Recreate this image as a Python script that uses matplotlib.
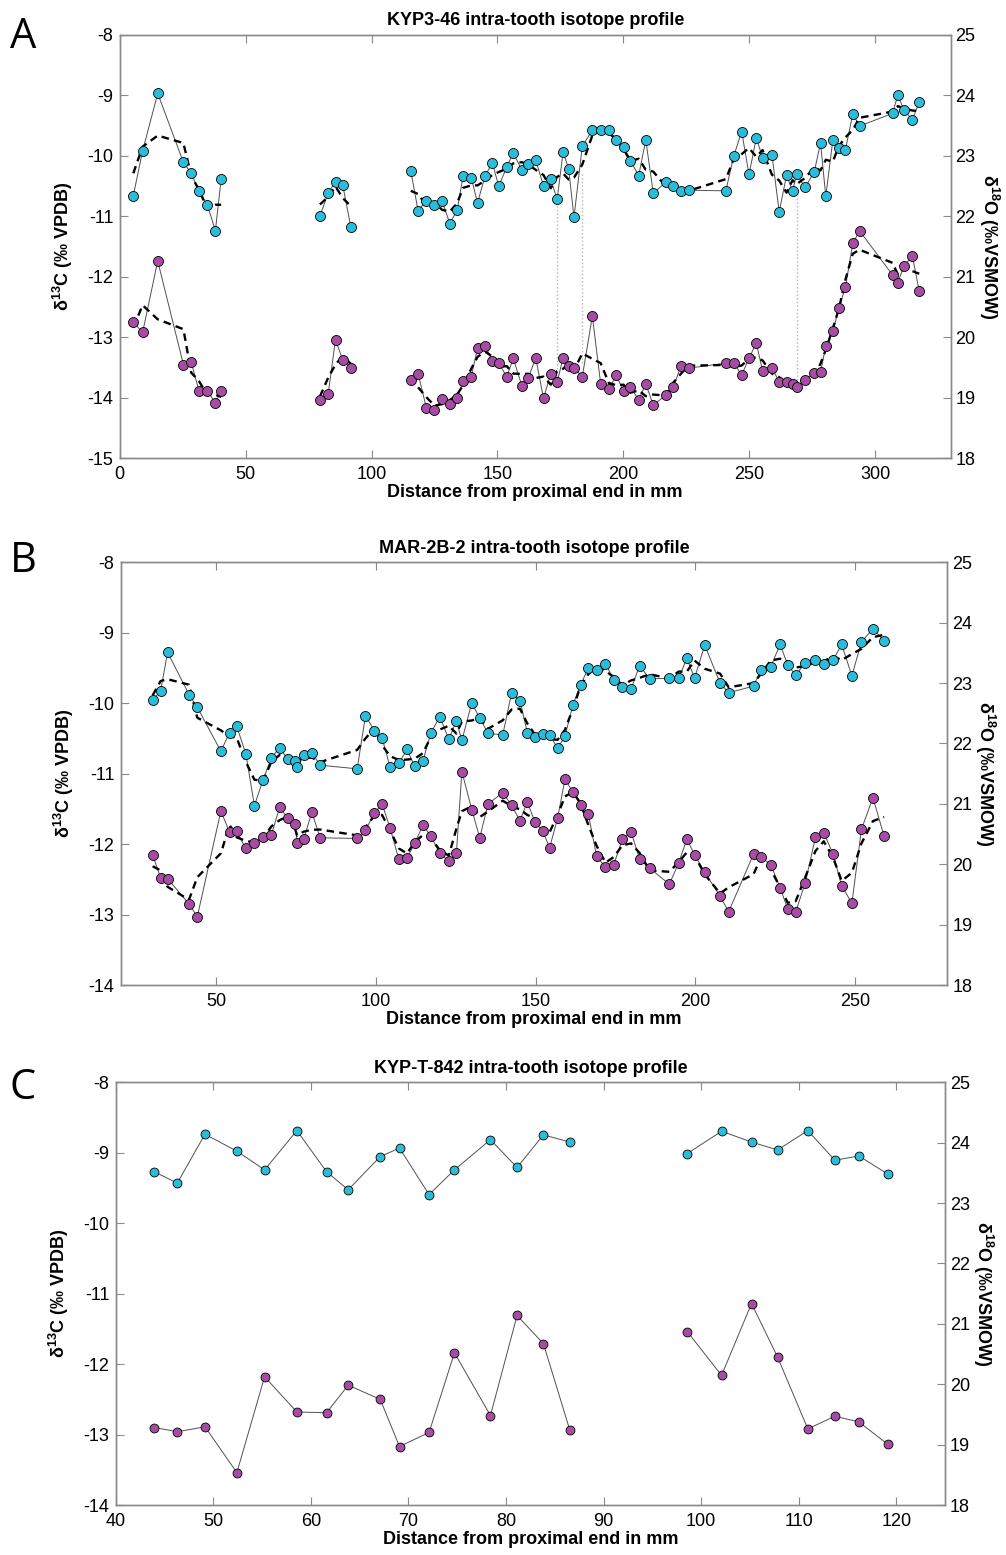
import matplotlib
matplotlib.use("Agg")
import matplotlib.pyplot as plt
import numpy as np
import pandas as pd

plt.rcParams["font.family"] = ["Liberation Sans", "DejaVu Sans"]
plt.rcParams["axes.unicode_minus"] = False
plt.rcParams["mathtext.fontset"] = "custom"
plt.rcParams["mathtext.rm"] = "Liberation Sans"
plt.rcParams["mathtext.bf"] = "Liberation Sans:bold"

CYAN = "#2BBCD9"
PURPLE = "#A64CA3"
SPINE = "#8a8a8a"

# --- A: KYP3-46 (distance mm, d18O VSMOW on right axis, d13C VPDB on left axis)
a_x = [5.4, 9.1, 15.1, 25.3, 28.4, 31.5, 34.8, 38.0, 40.3,
       79.5, 82.8, 85.7, 88.6, 91.8,
       115.6, 118.5, 121.8, 125.0, 128.0, 131.1, 134.0, 136.4, 139.6, 142.1,
       145.1, 148.0, 150.5, 153.7, 156.3, 159.7, 162.3, 165.2, 168.3, 171.2,
       173.7, 176.1, 178.3, 180.4, 183.7, 187.7, 191.0, 194.2, 197.2, 200.1,
       202.8, 206.1, 208.9, 211.9, 217.1, 219.9, 222.9, 225.9, 240.7, 243.8,
       247.0, 249.9, 252.8, 255.3, 259.0, 261.9, 264.8, 267.2, 268.8, 272.2,
       275.8, 278.3, 280.4, 283.2, 285.6, 288.2, 291.1, 293.8, 306.9, 309.0,
       311.4, 314.8, 317.5]
a_seg = [9, 5, 63]
a_o18 = [22.34, 23.08, 24.03, 22.89, 22.71, 22.41, 22.19, 21.76, 22.62,
         22.00, 22.39, 22.57, 22.51, 21.82,
         22.75, 22.09, 22.26, 22.19, 22.25, 21.88, 22.10, 22.67, 22.64, 22.22,
         22.67, 22.88, 22.50, 22.81, 23.05, 22.76, 22.87, 22.93, 22.50, 22.61,
         22.28, 23.06, 22.78, 21.98, 23.16, 23.42, 23.43, 23.42, 23.26, 23.15,
         22.92, 22.67, 23.26, 22.38, 22.57, 22.50, 22.41, 22.43, 22.42, 22.99,
         23.40, 22.69, 23.29, 22.97, 23.02, 22.07, 22.68, 22.42, 22.69, 22.48,
         22.73, 23.21, 22.33, 23.26, 23.12, 23.10, 23.69, 23.49, 23.70, 24.00,
         23.76, 23.59, 23.89]
a_c13 = [-12.75, -12.92, -11.74, -13.45, -13.41, -13.89, -13.88, -14.09, -13.88,
         -14.03, -13.93, -13.04, -13.38, -13.50,
         -13.71, -13.60, -14.17, -14.20, -14.02, -14.10, -14.00, -13.73, -13.65, -13.18,
         -13.14, -13.39, -13.43, -13.65, -13.35, -13.80, -13.67, -13.34, -14.01, -13.60,
         -13.74, -13.34, -13.48, -13.50, -13.65, -12.65, -13.77, -13.86, -13.63, -13.89,
         -13.83, -14.03, -13.77, -14.12, -13.95, -13.82, -13.47, -13.51, -13.43, -13.43,
         -13.62, -13.35, -13.09, -13.56, -13.50, -13.74, -13.74, -13.78, -13.83, -13.70,
         -13.59, -13.58, -13.14, -12.90, -12.52, -12.17, -11.45, -11.24, -11.97, -12.10,
         -11.82, -11.66, -12.24]
# dotted tie lines (left-axis units)
a_tie_x = [173.7, 183.7, 268.9]
a_tie_top = [-10.79, -10.29, -10.68]
a_tie_bot = [-13.71, -13.42, -13.71]

# --- B: MAR-2B-2
b_x = [30.0, 32.5, 34.7, 41.4, 44.0, 51.4, 54.1, 56.3, 59.2, 61.9, 64.6, 67.2,
       69.8, 72.3, 74.6, 75.3, 77.3, 79.9, 82.5, 94.1, 96.7, 99.5, 101.9, 104.4,
       107.1, 109.7, 112.1, 114.7, 117.2, 120.0, 122.8, 125.2, 126.9, 130.0,
       132.5, 135.1, 139.7, 142.5, 145.1, 147.4, 149.8, 152.2, 154.4, 156.9,
       159.2, 161.7, 164.1, 166.5, 169.1, 171.9, 174.5, 177.2, 179.9, 182.6,
       185.7, 191.9, 194.8, 197.4, 199.8, 203.0, 207.8, 210.5, 218.3, 220.5,
       223.7, 226.6, 229.0, 231.5, 234.5, 237.7, 240.3, 243.2, 245.9, 249.1,
       252.1, 255.7, 259.2]
b_seg = [77]
b_o18 = [22.72, 22.87, 23.51, 22.81, 22.60, 21.87, 22.18, 22.29, 21.83, 20.97,
         21.40, 21.76, 21.93, 21.74, 21.71, 21.61, 21.81, 21.85, 21.64, 21.58,
         22.46, 22.21, 22.09, 21.61, 21.67, 21.90, 21.63, 21.71, 22.18, 22.44,
         22.07, 22.37, 22.05, 22.67, 22.42, 22.17, 22.14, 22.84, 22.71, 22.18,
         22.10, 22.16, 22.14, 21.92, 22.12, 22.64, 22.97, 23.25, 23.22, 23.32,
         23.05, 22.94, 22.90, 23.29, 23.07, 23.08, 23.08, 23.41, 23.08, 23.63,
         23.00, 22.84, 22.95, 23.21, 23.27, 23.64, 23.30, 23.13, 23.34, 23.38,
         23.32, 23.38, 23.64, 23.12, 23.68, 23.90, 23.70]
b_c13 = [-12.15, -12.48, -12.49, -12.85, -13.03, -11.53, -11.83, -11.82, -12.06,
         -11.98, -11.90, -11.87, -11.48, -11.63, -11.72, -11.99, -11.93, -11.55,
         -11.91, -11.92, -11.80, -11.56, -11.43, -11.77, -12.21, -12.20, -11.99,
         -11.73, -11.89, -12.13, -12.24, -12.12, -10.97, -11.51, -11.91, -11.43,
         -11.27, -11.45, -11.67, -11.40, -11.69, -11.81, -12.05, -11.63, -11.08,
         -11.26, -11.44, -11.57, -12.17, -12.33, -12.29, -11.93, -11.83, -12.21,
         -12.34, -12.57, -12.27, -11.93, -12.15, -12.40, -12.74, -12.96, -12.14,
         -12.18, -12.29, -12.62, -12.92, -12.96, -12.55, -11.90, -11.84, -12.14,
         -12.59, -12.84, -11.79, -11.34, -11.89]

# --- C: KYP-T-842
c_x = [43.95, 46.31, 49.15, 52.42, 55.26, 58.57, 61.61, 63.83, 67.11, 69.09,
       72.12, 74.72, 78.41, 81.14, 83.84, 86.53,
       98.59, 102.10, 105.17, 107.84, 110.94, 113.71, 116.17, 119.14]
c_seg = [16, 8]
c_o18 = [23.52, 23.33, 24.14, 23.86, 23.55, 24.20, 23.52, 23.22, 23.77, 23.91,
         23.14, 23.55, 24.05, 23.59, 24.13, 24.01,
         23.82, 24.19, 24.01, 23.88, 24.20, 23.71, 23.78, 23.48]
c_c13 = [-12.90, -12.96, -12.89, -13.54, -12.18, -12.68, -12.69, -12.30, -12.50,
         -13.17, -12.97, -11.84, -12.73, -11.31, -11.71, -12.93,
         -11.54, -12.16, -11.14, -11.90, -12.92, -12.74, -12.82, -13.14]

W, H = 1006, 1555
FS = 13


def px_rect(left, right, top, bottom):
    return [left / W, 1 - bottom / H, (right - left) / W, (bottom - top) / H]


def segments(x, y, seg):
    start = 0
    for n in seg:
        yield np.asarray(x[start:start + n]), np.asarray(y[start:start + n])
        start += n


def draw_series(ax, x, y, seg, color, ms, smooth):
    for xs, ys in segments(x, y, seg):
        ax.plot(xs, ys, "-", color="#505050", lw=0.7, zorder=2)
        if smooth:
            # 3-point running mean, as drawn in the source figure
            sm = pd.Series(ys).rolling(3, center=True, min_periods=1).mean()
            ax.plot(xs, sm.values, color="black", lw=1.7,
                    linestyle=(0, (3.2, 2.2)), zorder=2.5)
        ax.plot(xs, ys, "o", ls="none", ms=ms, mfc=color, mec="black",
                mew=0.6, zorder=3)


def make_panel(fig, rect, x, o18, c13, seg, xlim, xticks, c13_lim, title,
               letter, letter_y, title_pad, smooth=True, ms=7.2):
    ax = fig.add_axes(rect)
    ax2 = ax.twinx()

    draw_series(ax, x, c13, seg, PURPLE, ms, smooth)
    draw_series(ax2, x, o18, seg, CYAN, ms, smooth)

    ax.set_xlim(*xlim)
    ax.set_xticks(xticks)
    ax.set_ylim(*c13_lim)
    ax.set_yticks(np.arange(c13_lim[0], c13_lim[1] + 1))
    ax2.set_ylim(18, 25)
    ax2.set_yticks(np.arange(18, 26))

    for a in (ax, ax2):
        for sp in a.spines.values():
            sp.set_color(SPINE)
            sp.set_linewidth(1.0)
    ax.tick_params(axis="x", direction="in", top=True, length=5.5,
                   color=SPINE, labelsize=FS, pad=5.5)
    ax.tick_params(axis="y", direction="in", right=False, length=5.5,
                   color=SPINE, labelsize=FS, pad=4.5)
    ax2.tick_params(axis="y", direction="in", length=5.5, color=SPINE,
                    labelsize=FS, pad=3.5)

    ax.set_xlabel("Distance from proximal end in mm", fontsize=FS,
                  fontweight="bold", labelpad=1.0)
    ax.set_ylabel(r"δ$^{\mathbf{13}}$C (‰ VPDB)", fontsize=FS,
                  fontweight="bold")
    ax2.set_ylabel(r"δ$^{\mathbf{18}}$O (‰VSMOW)", fontsize=FS,
                   fontweight="bold", rotation=270, va="center")
    ax.yaxis.set_label_coords(-0.054, 0.5)
    ax2.yaxis.set_label_coords(1.046, 0.5)
    ax.set_title(title, fontsize=FS, fontweight="bold", pad=title_pad)

    fig.text(10 / W, 1 - letter_y / H, letter, fontsize=30,
             family="Open Sans", va="baseline", ha="left")
    return ax, ax2


fig = plt.figure(figsize=(W / 100, H / 100), dpi=100)
fig.patch.set_facecolor("white")

axA, axA2 = make_panel(fig, px_rect(119.7, 950.7, 34.7, 458.3), a_x, a_o18,
                       a_c13, a_seg, (0, 330), [0, 50, 100, 150, 200, 250, 300],
                       (-15, -8), "KYP3-46 intra-tooth isotope profile",
                       "A", 48, 7)
axA.vlines(a_tie_x, a_tie_bot, a_tie_top, colors="#b5b5b5", linestyles=":",
           lw=1.0, zorder=1)

make_panel(fig, px_rect(120.7, 947.3, 562.3, 985.0), b_x, b_o18, b_c13, b_seg,
           (20, 279), [50, 100, 150, 200, 250], (-14, -8),
           "MAR-2B-2 intra-tooth isotope profile", "B", 572, 6.5)

make_panel(fig, px_rect(115.7, 945.0, 1082.3, 1505.0), c_x, c_o18, c_c13, c_seg,
           (40, 125), [40, 50, 60, 70, 80, 90, 100, 110, 120], (-14, -8),
           "KYP-T-842 intra-tooth isotope profile", "C", 1099, 6.5,
           smooth=False, ms=6.4)

fig.savefig("out.png", dpi=100, facecolor="white")
